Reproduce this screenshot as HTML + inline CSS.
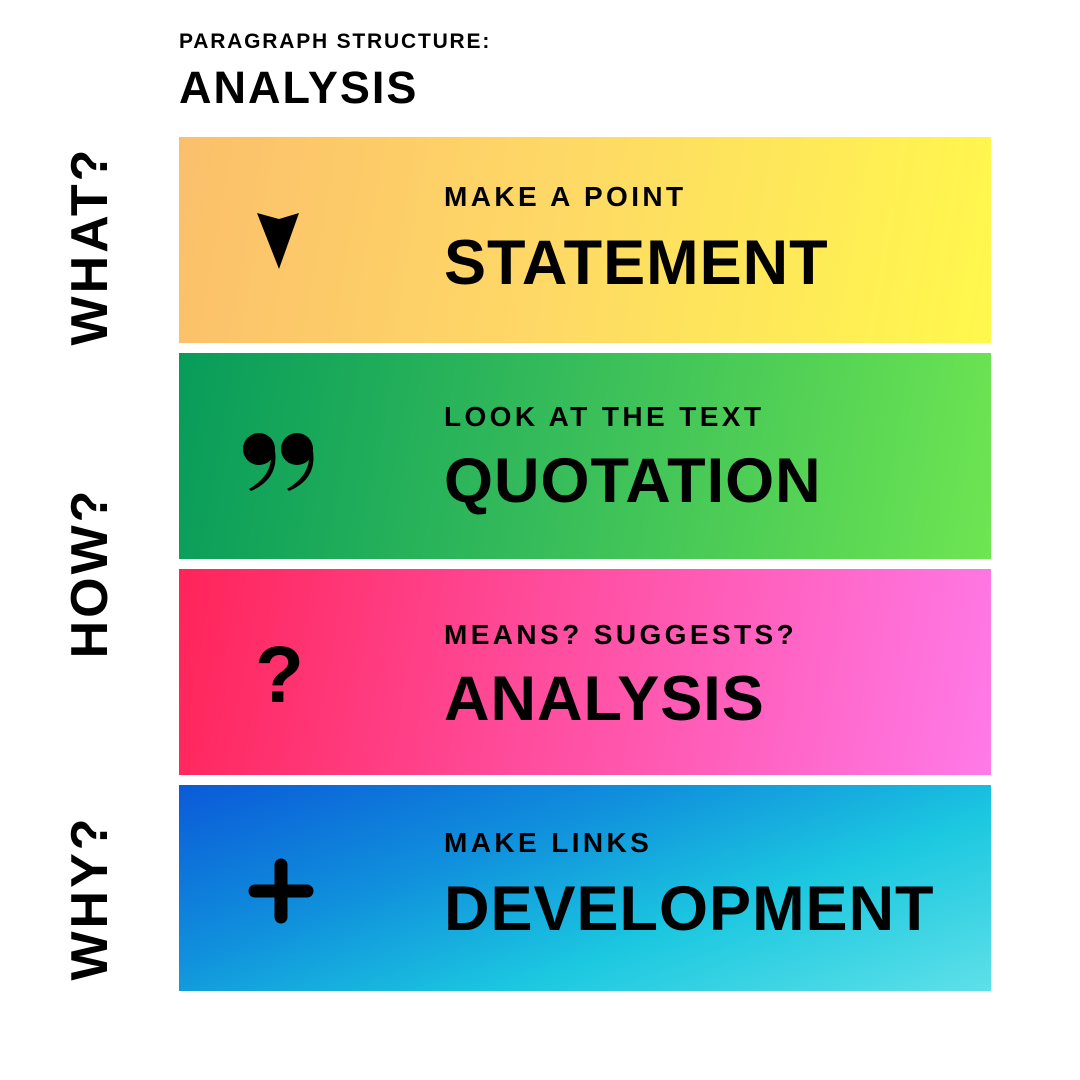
<!DOCTYPE html>
<html><head><meta charset="utf-8"><style>
body{margin:0;width:1080px;height:1080px;background:#fff;position:relative;overflow:hidden;font-family:"Liberation Sans",sans-serif;font-weight:bold;color:#000}
.abs{position:absolute}
.box{position:absolute;left:179px;width:812px;height:206px}
.small{position:absolute;left:265px;font-size:28px;letter-spacing:3.4px;line-height:1;white-space:nowrap}
.big{position:absolute;left:265px;font-size:63px;letter-spacing:1px;line-height:1;white-space:nowrap}
.side{position:absolute;font-size:52px;letter-spacing:3px;line-height:1;transform:rotate(-90deg);transform-origin:center;white-space:nowrap;text-align:center;width:260px;left:-40px}
</style></head><body>
<div class="abs" style="left:179px;top:31px;font-size:21px;letter-spacing:1.8px;line-height:1">PARAGRAPH STRUCTURE:</div>
<div class="abs" style="left:179px;top:65px;font-size:45px;letter-spacing:2px;line-height:1">ANALYSIS</div>

<div class="side" style="top:220px">WHAT?</div>
<div class="side" style="top:547px">HOW?</div>
<div class="side" style="top:872px">WHY?</div>

<div class="box" style="top:137px;background:linear-gradient(100deg,#fbbf6b 0%,#fed866 45%,#fff84c 100%)">
  <svg class="abs" style="left:76px;top:74px" width="48" height="60"><polygon points="2,2 24,8 44,2 24,58" fill="#000"/></svg>
  <div class="small" style="top:46px">MAKE A POINT</div>
  <div class="big" style="top:95px">STATEMENT</div>
</div>
<div class="box" style="top:353px;background:linear-gradient(100deg,#079c5a 0%,#35bb5a 45%,#6ee552 100%)">
  <svg class="abs" style="left:62px;top:78px" width="76" height="62">
    <circle cx="18" cy="18" r="16" fill="#000"/><path d="M30,22 Q32,44 8,58 L10,60 Q38,48 34,20 Z" fill="#000"/>
    <circle cx="56" cy="18" r="16" fill="#000"/><path d="M68,22 Q70,44 46,58 L48,60 Q76,48 72,20 Z" fill="#000"/>
  </svg>
  <div class="small" style="top:50px">LOOK AT THE TEXT</div>
  <div class="big" style="top:97px">QUOTATION</div>
</div>
<div class="box" style="top:569px;background:linear-gradient(100deg,#ff2458 0%,#ff4d9e 45%,#ff7ae8 100%)">
  <div class="abs" style="left:76px;top:66px;font-size:80px;line-height:1">?</div>
  <div class="small" style="top:52px">MEANS? SUGGESTS?</div>
  <div class="big" style="top:99px">ANALYSIS</div>
</div>
<div class="box" style="top:785px;background:linear-gradient(160deg,#0b5ad8 0%,#1090dc 35%,#1cc8e0 65%,#5ee0e8 100%)">
  <svg class="abs" style="left:69px;top:73px" width="66" height="66"><line x1="33" y1="7" x2="33" y2="59" stroke="#000" stroke-width="13" stroke-linecap="round"/><line x1="7" y1="33" x2="59" y2="33" stroke="#000" stroke-width="13" stroke-linecap="round"/></svg>
  <div class="small" style="top:44px">MAKE LINKS</div>
  <div class="big" style="top:93px">DEVELOPMENT</div>
</div>
</body></html>
